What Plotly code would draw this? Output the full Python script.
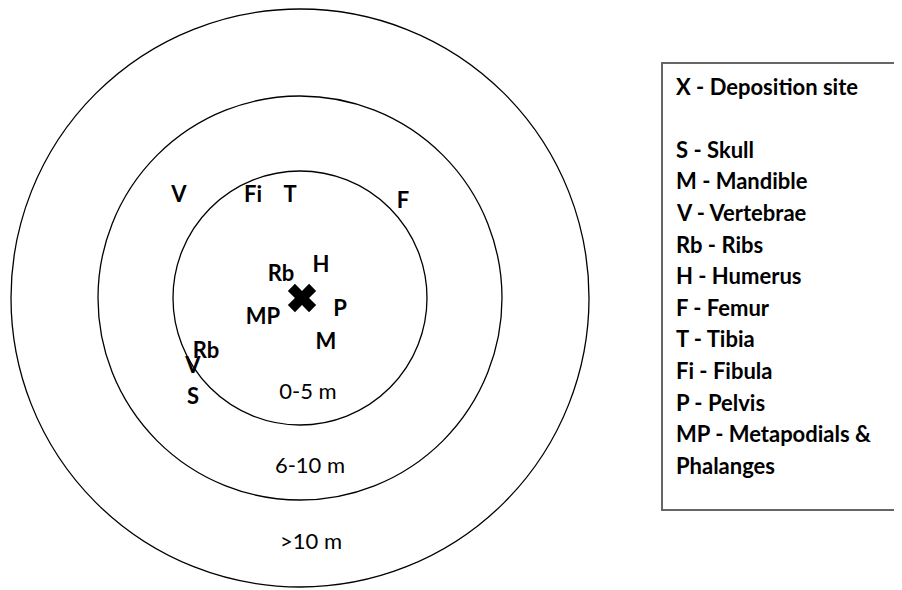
import plotly.graph_objects as go

# ring radii (px-like units around the deposition site) and their labels
ring_radius = [127, 202, 289]
ring_labels = ["0-5 m", "6-10 m", ">10 m"]
ring_label_x = [8, 10, 11]
ring_label_y = [-95, -169, -245]

# bone finds: code and position relative to deposition site
bone_codes = ["V", "Fi", "T", "F", "Rb", "H", "P", "MP", "M", "Rb", "V", "S"]
bone_x = [-121, -47, -10, 103, -19, 21, 40, -37, 26, -94, -107, -107]
bone_y = [102, 102, 102, 96, 23, 32, -12, -20, -45, -54, -69, -100]

legend_lines = [
    "X - Deposition site",
    "",
    "S - Skull",
    "M - Mandible",
    "V - Vertebrae",
    "Rb - Ribs",
    "H - Humerus",
    "F - Femur",
    "T - Tibia",
    "Fi - Fibula",
    "P - Pelvis",
    "MP - Metapodials &",
    "Phalanges",
]

FONT = "Lato, 'Open Sans', sans-serif"

fig = go.Figure()

shapes = []
for r in ring_radius:
    shapes.append(dict(type="circle", xref="x", yref="y",
                       x0=-r, x1=r, y0=-r, y1=r,
                       line=dict(color="black", width=1.3)))
# legend box (runs off the right edge, as in the reference)
shapes.append(dict(type="rect", xref="x", yref="y",
                   x0=362, x1=660, y0=-212, y1=235,
                   line=dict(color="#666666", width=2)))

# deposition site
fig.add_trace(go.Scatter(
    x=[2], y=[0], mode="markers",
    marker=dict(symbol="x", size=25, color="black", line=dict(width=0)),
    hoverinfo="skip", showlegend=False,
))

fig.add_trace(go.Scatter(
    x=bone_x, y=bone_y, mode="text", text=bone_codes,
    textfont=dict(family=FONT, size=22, color="black", weight="bold"),
    textposition="middle center", hoverinfo="skip", showlegend=False,
))

fig.add_trace(go.Scatter(
    x=ring_label_x, y=ring_label_y, mode="text", text=ring_labels,
    textfont=dict(family=FONT, size=22, color="black"),
    textposition="middle center", hoverinfo="skip", showlegend=False,
))

annotations = []
for i, line in enumerate(legend_lines):
    if not line:
        continue
    annotations.append(dict(
        x=374, y=212 - i * 31.6, xref="x", yref="y",
        text="<b>" + line + "</b>", showarrow=False,
        xanchor="left", yanchor="middle",
        font=dict(family=FONT, size=22, color="black"),
    ))

# the page body adds an 8px offset, so the ranges are shifted to match
fig.update_layout(
    width=902, height=590,
    margin=dict(l=0, r=0, t=0, b=0),
    paper_bgcolor="white", plot_bgcolor="white",
    shapes=shapes, annotations=annotations,
    xaxis=dict(range=[-292, 610], visible=False, fixedrange=True),
    yaxis=dict(range=[-300, 290], visible=False, fixedrange=True),
    showlegend=False,
)

fig.write_html("out.html")
